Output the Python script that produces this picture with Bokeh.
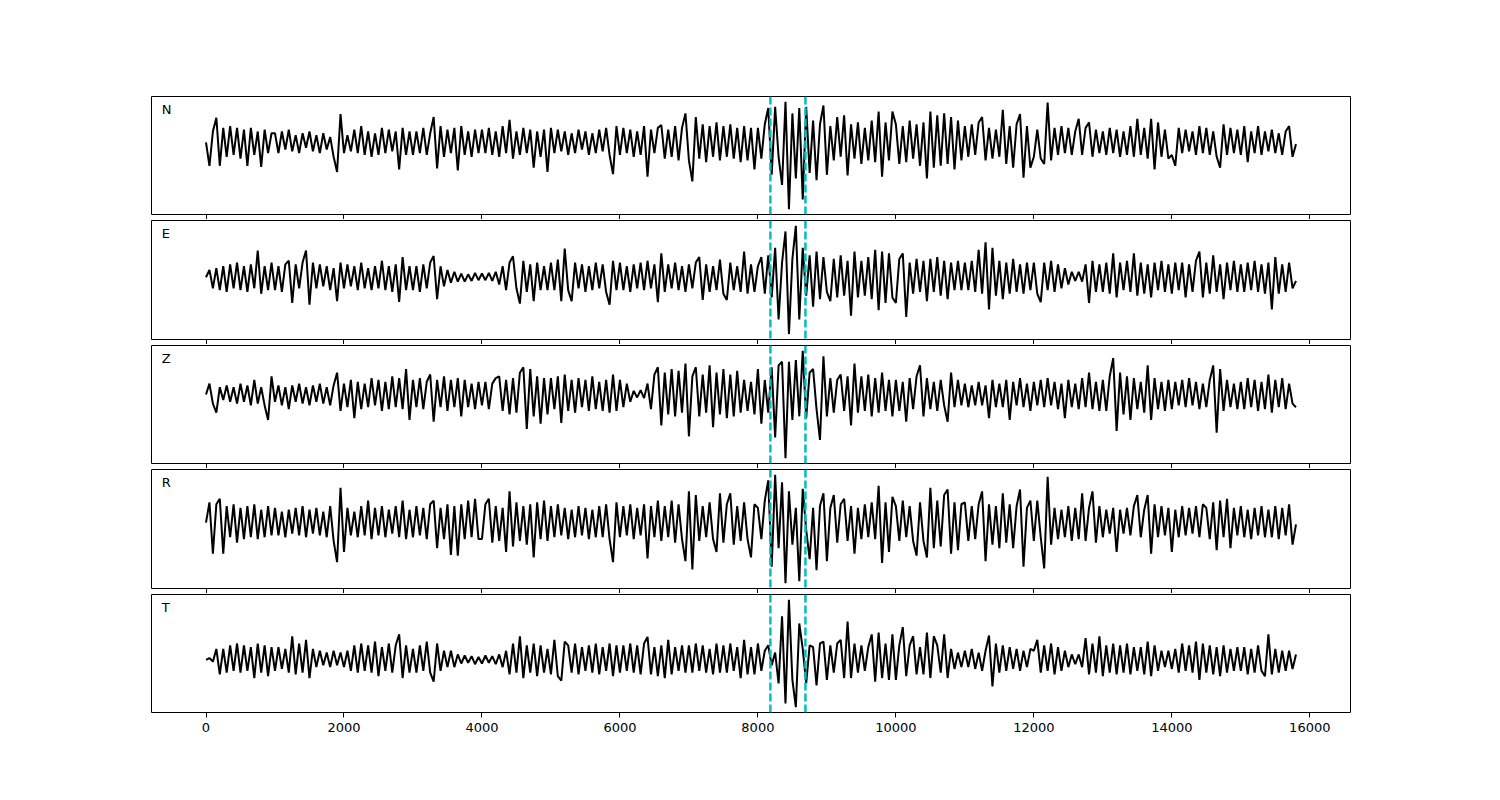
import numpy as np
from bokeh.plotting import figure
from bokeh.layouts import column
from bokeh.models import Range1d, Span, Label, FixedTicker, CustomLabelingPolicy
from bokeh.embed import file_html
from bokeh.resources import INLINE

# sample step of the traces (time units along x)
STEP = 50

channels = ["N", "E", "Z", "R", "T"]
picks = [8181, 8689]
x_ticks = [0, 2000, 4000, 6000, 8000, 10000, 12000, 14000, 16000]

trace_N = (
    [0, -65, 30, 68, -65, 40, -40, 45, -35, 40, -45, 35, -65, 40, -35, 30, -68, 35, -30, 25]
    + [25, -30, 30, -20, 35, -25, 20, -30, 25, -15, 30, -25, 20, -30, 25, -20, 15, -40, -82, 78]
    + [-30, 20, -25, 35, -30, 45, -35, 30, -40, 25, -35, 40, -30, 35, -25, 30, -75, 40, -35, 30]
    + [-35, 30, -30, 40, -35, 25, 70, -72, 45, -40, 35, -30, 40, -78, 45, -35, 30, -40, 35, -30]
    + [35, -30, 40, -35, 30, -40, 45, -30, 62, -45, 30, -35, 40, -30, 35, -70, 30, -40, 35, -82]
    + [40, -30, 35, -25, 30, -35, 25, -30, 35, -20, 30, -35, 25, -30, 35, -25, 40, -35, -88, 45]
    + [-35, 40, -30, 35, -40, 30, -35, 45, -95, 35, -30, 40, 48, -45, 35, -40, 45, -50, 40, 80]
    + [-50, -108, 70, -45, 50, -55, 45, -40, 55, -50, 45, -40, 50, -45, 40, -55, 45, -50, 40, -75]
    + [40, -45, 50, 95, -90, 98, -40, -118, 112, -185, 80, -100, 95, -158, 98, -85, 60, -105, 50, 102]
    + [-90, 45, -50, 70, -40, 75, -92, 50, -45, 55, -60, 40, -50, 60, -55, 85, -95, 55, -50, 85]
    + [50, -60, 45, -55, 60, -45, 50, -65, 55, -100, 85, -70, 75, -65, 80, -60, 70, -75, 60, -50]
    + [45, -40, 50, -35, 55, 70, -50, 40, -45, 35, -40, 90, -60, 45, -70, 50, 78, -98, 45, -70]
    + [-40, 35, -45, -60, 110, -50, 40, -35, 45, -30, 40, -35, 30, 65, -35, 40, 55, -40, 35, -30]
    + [30, -35, 40, -30, 35, -40, 30, -35, 45, -40, 65, -35, 40, -45, 65, -75, 55, -40, 35, -45]
    + [-35, -65, 40, -30, 35, -25, 30, -35, 45, -30, 40, -35, 30, -40, -70, 50, -35, 40, -30, 35]
    + [-35, 45, -55, 30, -30, 45, -35, 30, -25, 35, -30, 25, -35, 30, 45, -40, -5]
)

trace_E = (
    [0, 20, -30, 25, -35, 30, -40, 35, -30, 40, -35, 30, -40, 35, -30, 73, -45, 30, -35, 40]
    + [-35, 30, -40, 35, 45, -70, 35, -30, 40, 73, -75, 40, -30, 35, -25, 30, -35, 25, -65, 40]
    + [-30, 35, -25, 30, -35, 40, -30, 25, -35, 30, -30, 45, -35, 30, -40, 35, -67, 55, -35, 30]
    + [-35, 30, -40, 35, -30, 40, 58, -60, 30, -25, 20, -15, 15, -12, 10, -12, 8, -10, 12, -8]
    + [10, -8, 12, -10, 15, -20, 30, -35, 40, 57, -30, -72, 45, -40, 35, -65, 40, -35, 30, -35]
    + [40, -35, 48, -65, 78, -35, -65, 40, -30, 35, -40, 30, -35, 40, -30, 35, -40, -75, 45, -35]
    + [40, -35, 30, -40, 35, -30, 40, -35, 45, -30, 35, -68, 65, -40, 35, -30, 40, -35, 30, -40]
    + [35, -30, 40, 55, -62, 35, -40, 30, -35, 48, -45, -62, 40, -35, 30, -40, 70, -45, 35, -40]
    + [30, 55, -45, 60, -55, 80, -115, 40, 125, -155, 50, 140, -115, 80, -50, 60, -80, 70, -60, 55]
    + [-40, -65, 50, -55, 60, -50, 45, -105, 70, -55, 45, -50, 55, -60, 75, -90, 70, -70, 65, -55]
    + [-70, 50, 65, -108, 40, -45, 50, -40, 45, -65, 50, -40, 55, -50, 45, -60, 40, -35, 45, -35]
    + [40, -35, 45, -40, 75, -45, 95, -88, 80, -50, 45, -60, 40, -45, 50, -40, 35, -45, 40, -35]
    + [40, -45, -68, 40, -35, 45, -40, 35, -30, 25, -20, 15, -10, 15, -12, 35, -70, 45, -40, 35]
    + [-40, 40, -45, 65, -55, 40, -35, 45, -40, 65, -50, 40, -45, 35, -55, 40, -35, 45, -40, 35]
    + [-45, 40, -35, 40, -55, 35, -40, 45, 70, -55, 40, -45, 60, -40, 35, -60, 40, -35, 45, -40]
    + [35, -40, 40, -35, 45, -40, 35, -45, 40, -88, 55, -45, 35, -40, 40, -30, -10]
)

trace_Z = (
    [0, 30, -25, -50, 20, -15, 25, -20, 20, -25, 30, -20, 25, -30, 40, -25, 20, -30, -70, 50]
    + [-20, 25, -30, 20, -40, 25, -20, 30, -25, 20, -30, 25, -20, 30, -25, 20, -30, 25, 60, -45]
    + [30, -35, 40, -65, 35, -40, 30, -35, 45, -30, 40, -45, 35, -40, 50, -35, 45, -40, 70, -70]
    + [40, -35, 45, -40, 35, 55, -75, 40, -35, 50, -45, 40, -35, 45, -60, 40, -35, 30, -40, 35]
    + [-30, 35, -40, 30, 45, 50, -45, 40, -55, 45, -50, 60, 75, -95, 70, -60, 50, -80, 45, -55]
    + [45, -40, 50, -78, 55, -45, 40, -50, 45, -35, 40, -45, 50, -40, 35, -45, 40, -50, 55, -45]
    + [40, -35, 30, -20, 10, -8, 12, -10, 30, -40, 55, 75, -85, 60, -55, 70, -60, 65, -50, 85]
    + [-115, 50, 75, -60, 55, -50, 80, -90, 60, -55, 70, -65, 55, -60, 65, -50, 40, -45, 35, -55]
    + [70, -80, 40, -50, 75, -118, 80, 90, -175, 90, -70, 95, -60, 120, -65, 60, 70, -40, -125, 105]
    + [-60, 45, -50, 40, 55, -45, 50, -85, 85, -50, 50, -45, 55, -60, 45, -50, 60, -45, 40, -60]
    + [40, -45, 35, -75, 45, -40, 50, 80, -60, 45, -40, 35, -45, 40, -30, -75, 60, -35, 40, -30]
    + [30, -35, 25, -30, 35, -30, 25, -65, 40, -35, 30, -35, 40, -70, 35, -30, 45, -35, 30, -45]
    + [35, -30, 40, -35, 45, -30, 35, -40, 30, -65, 40, -35, 30, -40, 45, -35, 60, -40, 35, -45]
    + [40, -45, 50, 100, -100, 60, -55, 50, -70, 45, -40, 35, -50, 80, -70, 45, -40, 35, -45, 40]
    + [-40, 35, -30, 40, -35, 45, -30, 35, -40, 30, -35, 40, 80, -105, 70, -45, 40, -35, 30, -40]
    + [35, -40, 45, -35, 40, -45, 35, -40, 55, -50, 40, -35, 45, -40, 30, -25, -35]
)

trace_R = (
    [0, 55, -85, 50, 65, -85, 45, -40, 50, -55, 40, -45, 45, -40, 50, -45, 35, -40, 45, -35]
    + [40, -35, 30, -40, 35, -30, 40, -35, 45, -40, 35, -30, 40, -35, 30, -40, 45, -50, -108, 95]
    + [-80, 40, -35, 30, -40, 45, -35, 60, -45, 40, -35, 45, -40, 35, -30, 45, -40, 60, -45, 35]
    + [-40, 45, -35, 40, -45, 50, 60, -70, 40, -45, 50, -88, 45, -90, 50, -45, 60, -40, 65, -45]
    + [-45, 50, 65, -55, 45, -50, 40, -80, 85, -65, 55, -50, 45, -60, 50, -95, 55, -45, 60, -50]
    + [45, -40, 50, -35, 40, -45, 35, -40, 45, -35, 40, -45, 35, -40, 45, -40, 50, -45, -108, 55]
    + [-40, 45, -35, 50, -45, 40, -35, 50, -98, 45, -40, 60, -50, 45, -40, 60, -55, 50, -45, -105]
    + [85, -128, 75, -50, 45, -40, 55, -45, -80, 80, -55, 50, 80, -60, 45, -50, 55, -45, -95, 50]
    + [40, -45, 60, 115, -120, 130, -70, 110, -165, 85, -60, 40, -160, 92, -20, -100, 40, -130, 45, 80]
    + [-105, 40, 75, -55, 50, 65, -50, 45, -85, 40, -45, 50, -40, 55, -45, 100, -110, 55, -80, 70]
    + [45, -50, 60, -40, 45, -50, -90, 55, -50, -95, 95, -70, 60, -65, 75, 90, -85, 55, -75, 50]
    + [55, -50, 45, -45, 50, 85, -105, 50, -60, 45, -70, 80, -55, 50, -70, 45, 90, -120, 40, 60]
    + [-50, 60, -40, -125, 125, -60, 40, -45, 35, -40, 45, -50, 40, -45, 80, -50, 40, 85, -55, 45]
    + [-40, 35, -30, 40, -80, 35, -30, 40, -35, 45, 75, -40, 35, 75, -85, 50, -40, 45, -35, 40]
    + [-80, 35, -40, 45, -35, 40, -30, 45, -40, 50, 40, -45, 55, -75, 60, -40, 65, -70, 40, -35]
    + [45, -40, 35, -45, 40, -35, 45, -40, 35, -40, 45, -45, 40, -35, 50, -60, -5]
)

trace_T = (
    [0, 5, -5, 30, -40, 30, -35, 40, -30, 45, -35, 40, -30, 35, -50, 45, -35, 40, -45, 35]
    + [-30, 35, -25, 30, -35, 65, -40, 45, -35, 55, -50, 30, -20, 25, -15, 20, -20, 25, -15, 20]
    + [-20, 25, -30, 40, -35, 45, -30, 40, -35, 50, -45, 35, -30, 45, -35, 40, 70, -50, 40, -35]
    + [30, -35, 40, -30, 50, -35, -60, 45, -30, 25, -20, 25, -20, 15, -10, 12, -8, 10, -12, 8]
    + [-10, 12, -8, 10, -12, 15, -20, 25, -40, 45, -35, 65, -50, 40, -35, 45, -45, 40, -35, 30]
    + [-40, 55, -45, -57, 50, 40, -35, 45, -40, 35, -30, 40, -35, 45, -40, 35, -30, 45, -45, 40]
    + [-35, 40, -30, 45, -35, 40, -40, 45, 63, -40, 35, -45, 40, -50, 55, -40, 35, -30, 40, -35]
    + [40, -35, 45, -30, 40, -35, 30, -40, 45, -35, 40, -35, 45, -30, 35, -50, 55, -40, 35, -40]
    + [45, -30, 25, 40, -15, 20, -65, 120, -120, 165, -55, -130, 100, 30, -65, 40, 35, -70, 45, 50]
    + [-55, 40, -35, 45, 55, -50, 105, -50, 45, -35, 40, -30, 35, 70, -60, 75, -50, 45, -55, 70]
    + [-55, 40, 90, -45, 40, 65, -40, 35, -40, 75, -50, 65, 40, -35, 70, -50, 30, -25, 20, -20]
    + [25, -20, 30, -25, 20, -30, 25, 67, -73, 45, -35, 40, -30, 35, -25, 30, -30, 25, -20, 30]
    + [25, 55, -35, 40, -30, 45, -40, 35, -30, 25, -20, 15, -12, 15, -20, 60, -40, 45, -35, 65]
    + [-45, 40, -35, 45, -40, 40, -35, 45, -40, 35, -30, 35, -40, 50, -45, 40, -30, 25, -20, 25]
    + [-25, 30, -35, 45, -30, 40, -35, 50, -55, 45, -35, 40, -40, 35, -45, 40, -35, 30, -30, 35]
    + [-30, 35, -40, 30, -35, 40, -30, -45, 70, -40, 30, -35, 25, -30, 25, -25, 15]
)

traces = [trace_N, trace_E, trace_Z, trace_R, trace_T]

FONT = "DejaVu Sans"
x_range = Range1d(-790, 16590)
frame_heights = [118, 119, 118, 119, 118]
tops = [96, 1, 1, 1, 1]

hide_labels = CustomLabelingPolicy(code="""
for (const i of indices)
    indices.unset(i)
return indices
""")

figs = []
for i, (name, tr) in enumerate(zip(channels, traces)):
    y = np.array(tr, dtype=float)
    x = np.arange(len(y)) * STEP
    lo, hi = y.min(), y.max()
    pad = 0.05 * (hi - lo)
    y0, y1 = lo - pad, hi + pad
    last = i == len(channels) - 1
    p = figure(
        frame_width=1199, frame_height=frame_heights[i],
        x_range=x_range, y_range=Range1d(y0, y1),
        output_backend="svg", toolbar_location=None,
        min_border_left=151, min_border_right=134,
        min_border_top=tops[i], min_border_bottom=0,
    )
    p.background_fill_color = "white"
    p.border_fill_color = "white"
    p.outline_line_color = "black"
    p.outline_line_width = 1
    p.grid.visible = False
    p.yaxis.visible = False
    ax = p.xaxis[0]
    ax.ticker = FixedTicker(ticks=x_ticks)
    ax.axis_line_color = None
    ax.major_tick_in = 0
    ax.major_tick_out = 5
    ax.major_tick_line_width = 1
    ax.minor_tick_line_color = None
    ax.major_label_text_font = FONT
    ax.major_label_text_color = "black"
    if last:
        ax.major_label_text_font_size = "13px"
        ax.major_label_standoff = 5
    else:
        ax.major_label_text_font_size = "0px"
        ax.major_label_standoff = 0
        ax.major_label_policy = hide_labels

    p.line(x, y, line_color="black", line_width=2)
    for loc in picks:
        p.add_layout(Span(location=loc, dimension="height", line_color="#00bfbf",
                          line_width=2.5, line_dash="8 3"))
    span = y1 - y0
    p.add_layout(Label(x=-640, y=y1 - span * 0.05, text=name, text_baseline="top",
                       text_align="left", text_font=FONT, text_font_size="13px",
                       text_color="black"))
    figs.append(p)

layout = column(*figs, spacing=0)
open("out.html", "w").write(file_html(layout, INLINE))
